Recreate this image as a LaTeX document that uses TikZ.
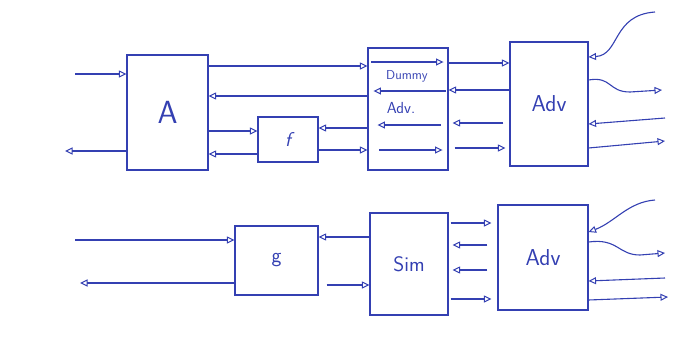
\documentclass[tikz,border=0pt]{standalone}
\usetikzlibrary{arrows.meta,calc}
\definecolor{ink}{RGB}{52,64,178}
\begin{document}
\begin{tikzpicture}[x=1pt,y=-1pt,
  box/.style={draw=ink,line width=1.1pt,minimum width=#1,inner sep=0pt},
  wire/.style={draw=ink,line width=1.1pt},
  tip/.style={wire,-{Triangle[open,length=7.5pt,width=7pt,line width=1pt]}},
  lbl/.style={text=ink,font=\sffamily}]
\useasboundingbox (0,0) rectangle (675,359);
% top row boxes
\node[box=81pt,minimum height=115pt] (A) at (167.5,112.5) {};
\node[lbl,font=\sffamily\fontsize{32}{32}\selectfont] at (A) {A};
\node[box=60pt,minimum height=45pt] (f) at (288,139.5) {};
\node[lbl,font=\sffamily\fontsize{20}{20}\selectfont\itshape] at (f) {f};
\node[box=80pt,minimum height=122pt] (D) at (408,109) {};
\node[lbl,font=\sffamily\fontsize{13}{13}\selectfont] (dlab) at (407,76) {Dummy};
\node[lbl,font=\sffamily\fontsize{16}{16}\selectfont] (alab) at (401,108) {Adv.};
\node[box=78pt,minimum height=124pt] (V1) at (549,104) {};
\node[lbl,font=\sffamily\fontsize{23}{23}\selectfont] at (V1) {Adv};
% bottom row boxes
\node[box=83pt,minimum height=69pt] (g) at (276.5,260.5) {};
\node[lbl,font=\sffamily\fontsize{21}{21}\selectfont] at (g) {g};
\node[box=78pt,minimum height=102pt] (S) at (409,264) {};
\node[lbl,font=\sffamily\fontsize{21}{21}\selectfont] at (S) {Sim};
\node[box=90pt,minimum height=105pt] (V2) at (543,257.5) {};
\node[lbl,font=\sffamily\fontsize{23}{23}\selectfont] at (V2) {Adv};
% free ends
\coordinate (in1) at (75,74);
\coordinate (out1) at (65,151);
\coordinate (t1) at (655,12);
\coordinate (t2) at (662,90);
\coordinate (t3) at (665,118);
\coordinate (t4) at (665,141);
\coordinate (in2) at (75,240);
\coordinate (out2) at (80,283);
\coordinate (b1) at (655,200);
\coordinate (b2) at (665,253);
\coordinate (b3) at (665,278);
\coordinate (b4) at (668,297);
% top row wires
\draw[tip] (in1) -- (A.west |- in1);
\draw[tip] (A.west |- out1) -- (out1);
\draw[tip] (A.east |- 0,66) -- (D.west |- 0,66);
\draw[tip] ($(D.west |- 0,62)+(4,0)$) -- ($(D.east |- 0,62)+(-5,0)$);
\draw[tip] (D.east |- 0,63) -- (V1.west |- 0,63);
\draw[tip] (D.west |- 0,96) -- (A.east |- 0,96);
\draw[tip] ($(D.east |- 0,91)+(-3,0)$) -- ($(D.west |- 0,91)+(6,0)$);
\draw[tip] (V1.west |- 0,90) -- (D.east |- 0,90);
\draw[tip] (A.east |- 0,131) -- (f.west |- 0,131);
\draw[tip] (f.west |- 0,154) -- (A.east |- 0,154);
\draw[tip] (D.west |- 0,128) -- (f.east |- 0,128);
\draw[tip] (f.east |- 0,150) -- (D.west |- 0,150);
\draw[tip] ($(D.east |- 0,125)+(-8,0)$) -- ($(D.west |- 0,125)+(10,0)$);
\draw[tip] ($(D.west |- 0,150)+(12,0)$) -- ($(D.east |- 0,150)+(-6,0)$);
\draw[tip] ($(V1.west |- 0,123)+(-6,0)$) -- ($(D.east |- 0,123)+(4,0)$);
\draw[tip] ($(D.east |- 0,148)+(6,0)$) -- ($(V1.west |- 0,148)+(-4,0)$);
% top Adv right side
\draw[tip] (t1) .. controls (612,15) and (620,55) .. (V1.east |- 0,57);
\draw[tip] (V1.east |- 0,80) .. controls (612,76) and (608,92) .. (630,92) -- (t2);
\draw[tip] (t3) -- (V1.east |- 0,124);
\draw[tip] (V1.east |- 0,148) -- (t4);
% bottom row wires
\draw[tip] (in2) -- (g.west |- in2);
\draw[tip] (g.west |- out2) -- (out2);
\draw[tip] (S.west |- 0,237) -- (g.east |- 0,237);
\draw[tip] ($(g.east |- 0,285)+(8,0)$) -- (S.west |- 0,285);
\draw[tip] ($(S.east |- 0,223)+(2,0)$) -- ($(V2.west |- 0,223)+(-6,0)$);
\draw[tip] ($(V2.west |- 0,245)+(-10,0)$) -- ($(S.east |- 0,245)+(4,0)$);
\draw[tip] ($(V2.west |- 0,270)+(-10,0)$) -- ($(S.east |- 0,270)+(4,0)$);
\draw[tip] ($(S.east |- 0,299)+(2,0)$) -- ($(V2.west |- 0,299)+(-6,0)$);
% bottom Adv right side
\draw[tip] (b1) .. controls (628,202) and (615,222) .. (V2.east |- 0,232);
\draw[tip] (V2.east |- 0,242) .. controls (618,238) and (618,255) .. (640,255) -- (b2);
\draw[tip] (b3) -- (V2.east |- 0,281);
\draw[tip] (V2.east |- 0,300) -- (b4);
\end{tikzpicture}
\end{document}
